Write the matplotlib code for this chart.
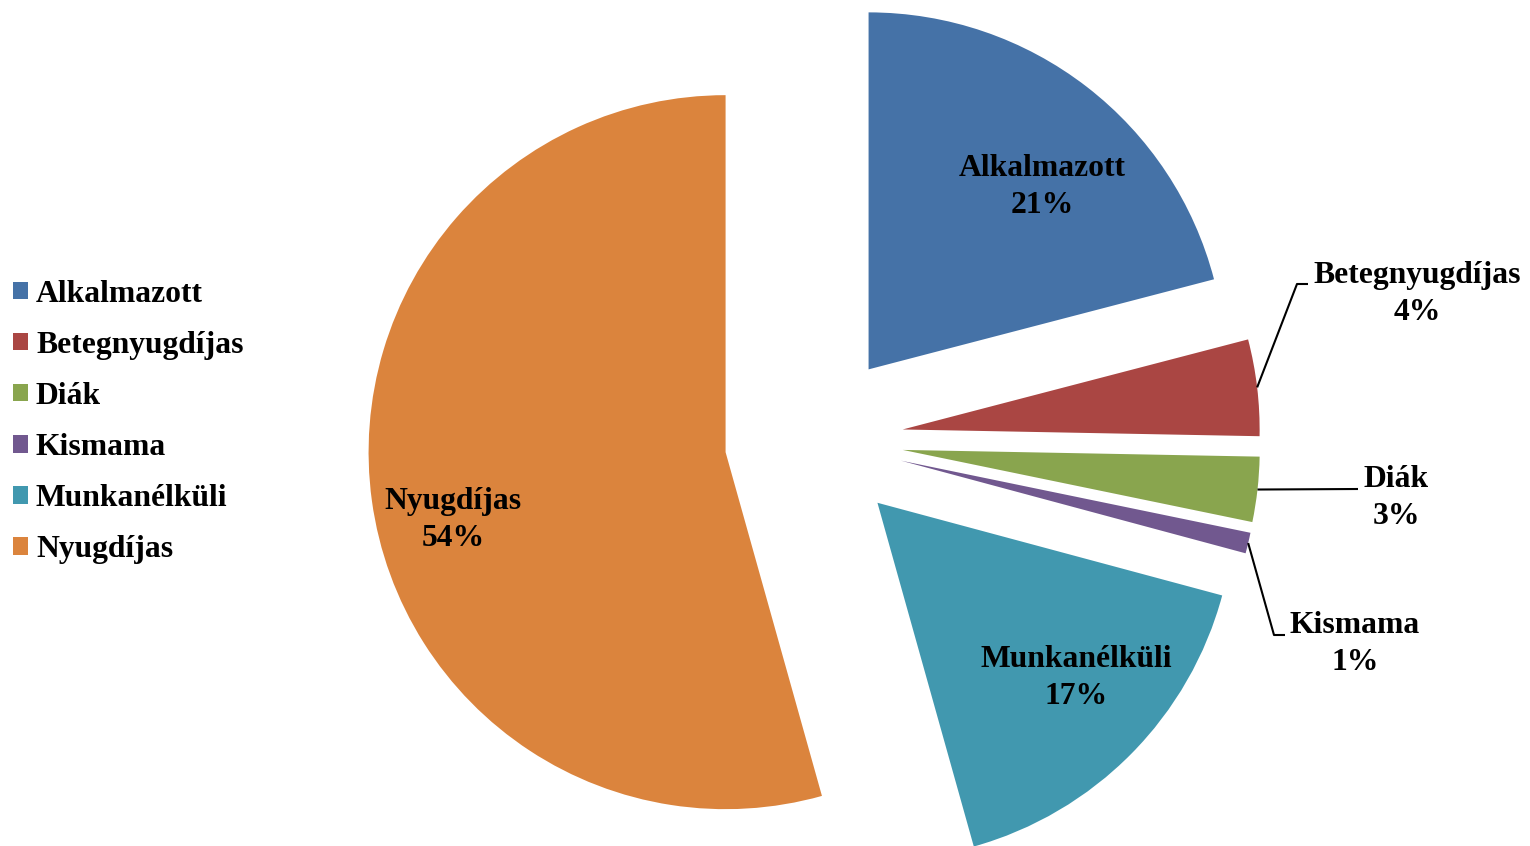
import numpy as np
import matplotlib
matplotlib.use("Agg")
import matplotlib.pyplot as plt

plt.rcParams['font.family'] = ['Liberation Serif', 'DejaVu Serif']
plt.rcParams['font.weight'] = 'bold'

# adatok
categories = ['Alkalmazott', 'Betegnyugdíjas', 'Diák', 'Kismama',
              'Munkanélküli', 'Nyugdíjas']
shares = [20.94, 4.36, 2.94, 0.94, 16.47, 54.35]
pct_labels = ['21%', '4%', '3%', '1%', '17%', '54%']
colors = ['#4572A7', '#AA4643', '#89A54E', '#71588F', '#4198AF', '#DB843D']

W, H = 1530, 846
CX, CY, R = 814, 440, 357   # kör középpontja és sugara pixelben


def px(x, y):
    """pixel -> adat koordináta"""
    return (x - CX) / R, (CY - y) / R


fig = plt.figure(figsize=(W / 100, H / 100), dpi=100)
ax = fig.add_axes([0, 0, 1, 1])
ax.axis('off')

wedges, _ = ax.pie(shares, colors=colors, startangle=90, counterclock=False,
                   explode=[0.25] * len(shares), radius=1.0,
                   wedgeprops=dict(linewidth=0))
ax.set_xlim(px(0, 0)[0], px(W, 0)[0])
ax.set_ylim(px(0, H)[1], px(0, 0)[1])
ax.set_aspect('auto')

fs = 22.8
ls = 1.32

# belső címkék
inside = {0: (1042, 187), 4: (1076, 678), 5: (453, 520)}
for i, (x, y) in inside.items():
    tx, ty = px(x, y)
    ax.text(tx, ty, f'{categories[i]}\n{pct_labels[i]}', ha='center',
            va='center', fontsize=fs, fontweight='bold', linespacing=ls)

# külső címkék vezetővonallal
outside = {
    1: dict(label=(1417, 294), path=[(1297, 284), (1308, 284)]),
    2: dict(label=(1396, 498), path=[(1358, 489)]),
    3: dict(label=(1355, 644), path=[(1274, 635), (1285, 635)]),
}
for i, o in outside.items():
    w = wedges[i]
    mid = np.deg2rad((w.theta1 + w.theta2) / 2)
    sx = w.center[0] + w.r * np.cos(mid)
    sy = w.center[1] + w.r * np.sin(mid)
    pts = [(sx, sy)] + [px(*p) for p in o['path']]
    xs, ys = zip(*pts)
    ax.plot(xs, ys, color='black', lw=1.5, solid_capstyle='butt')
    tx, ty = px(*o['label'])
    ax.text(tx, ty, f'{categories[i]}\n{pct_labels[i]}', ha='center',
            va='center', fontsize=fs, fontweight='bold', linespacing=ls)

fig.legend(wedges, categories, loc='center left',
           bbox_to_anchor=(13 / W, 1 - 422 / H), frameon=False,
           prop=dict(size=fs, weight='bold'), borderpad=0, borderaxespad=0,
           handlelength=0.475, handleheight=0.475, handletextpad=0.25,
           labelspacing=0.7)

fig.savefig('out.png', dpi=100)
